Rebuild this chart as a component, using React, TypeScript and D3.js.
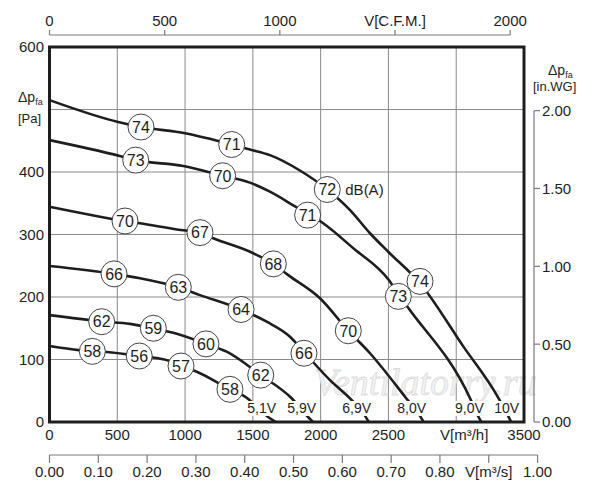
import React from "react";
import * as d3 from "d3";

// fan curves, [V m3/h, dp Pa]
const curve51 = [[0, 121.6], [218, 115], [422, 112], [662, 106], [754, 103.5], [864, 99], [970, 89.6], [1086, 80.5], [1331, 52.3], [1442, 40.5], [1612, 8], [1670, 0]];
const curve59 = [[0, 171], [385, 161], [594, 157], [766, 150], [913, 142.7], [1154, 125], [1307, 112.5], [1558, 75], [1786, 38], [1907, 8], [1944, 0]];
const curve69 = [[0, 249.6], [476, 237], [667, 230], [950, 215.5], [1110, 203], [1413, 180], [1602, 160.5], [1774, 136.5], [1877, 112], [2069, 67], [2229, 35], [2330, 9], [2355, 0]];
const curve80 = [[0, 344.5], [557, 321.6], [667, 317.9], [987, 306.7], [1110, 303], [1208, 294], [1503, 270], [1651, 253], [1761, 235], [1995, 198], [2204, 146], [2364, 110], [2622, 40.5], [2735, 9], [2760, 0]];
const curve90 = [[0, 451], [519, 425.6], [636, 419], [987, 409.6], [1277, 394], [1478, 383], [1626, 368.5], [1811, 345], [2019, 318], [2241, 278], [2500, 228], [2573, 205], [2635, 186], [3102, 38], [3160, 10], [3185, 0]];
const curve100 = [[0, 515], [506, 480], [675, 472], [1000, 462], [1344, 444], [1478, 436], [1626, 427], [1850, 402], [2049, 372], [2217, 339], [2364, 302], [2500, 272], [2733, 222], [3052, 121], [3299, 43], [3380, 11], [3405, 0]];

const curves = [curve51, curve59, curve69, curve80, curve90, curve100];
const voltages = ["5,1V", "5,9V", "6,9V", "8,0V", "9,0V", "10V"];
const voltageLabelV = [1565, 1860, 2266, 2672, 3097, 3372];

// noise labels, [V m3/h, dp Pa, dB(A)]
const noise51 = [[316, 113, 58], [662, 105.6, 56], [970, 89.6, 57], [1331, 52.3, 58]];
const noise59 = [[385, 160.5, 62], [766, 150, 59], [1154, 125, 60], [1558, 75, 62]];
const noise69 = [[476, 237, 66], [950, 215.5, 63], [1413, 180, 64], [1877, 110, 66]];
const noise80 = [[557, 321.6, 70], [1110, 303, 67], [1651, 253, 68], [2204, 146, 70]];
const noise90 = [[636, 419, 73], [1277, 394, 70], [1904, 331, 71], [2573, 201, 73]];
const noise100 = [[675, 472, 74], [1344, 444, 71], [2049, 372, 72], [2733, 225, 74]];
const noiseLabels = [noise51, noise59, noise69, noise80, noise90, noise100];

const xTicks = [0, 500, 1000, 1500, 2000, 2500, 3000, 3500];
const xTickLabels = ["0", "500", "1000", "1500", "2000", "2500", "V[m³/h]", "3500"];
const yTicks = [0, 100, 200, 300, 400, 500, 600];
const yTickLabels = ["0", "100", "200", "300", "400", "", "600"];
const cfmTicks = [0, 500, 1000, 1500, 2000];
const cfmTickLabels = ["0", "500", "1000", "V[C.F.M.]", "2000"];
const m3sTicks = [0, 0.1, 0.2, 0.3, 0.4, 0.5, 0.6, 0.7, 0.8, 0.9, 1.0];
const m3sTickLabels = ["0.00", "0.10", "0.20", "0.30", "0.40", "0.50", "0.60", "0.70", "0.80", "V[m³/s]", "1.00"];
const wgTicks = [0, 0.5, 1.0, 1.5, 2.0];
const wgTickLabels = ["0.00", "0.50", "1.00", "1.50", "2.00"];

const CFM_PER_M3H = 0.588578;
const PA_PER_INWG = 249.089;

const font = "'Liberation Sans', Arial, sans-serif";
const ink = "#1e1e1e";
const axisGray = "#7a7a7a";

const App = () => {
  const left = 49.5;
  const right = 524;
  const top = 47;
  const bottom = 422;

  const x = d3.scaleLinear().domain([0, 3500]).range([left, right]);
  const y = d3.scaleLinear().domain([0, 600]).range([bottom, top]);
  const xCfm = d3.scaleLinear().domain([0, 3500 * CFM_PER_M3H]).range([left, right]);
  const xM3s = d3.scaleLinear().domain([0, 3500 / 3600]).range([left, right]);
  const yWg = d3.scaleLinear().domain([0, 600 / PA_PER_INWG]).range([bottom, top]);

  const line = d3
    .line<number[]>()
    .x((d) => x(d[0]))
    .y((d) => y(d[1]))
    .curve(d3.curveMonotoneX);

  const topAxisY = 35;
  const m3sAxisY = 455;
  const wgAxisX = 534;

  return (
    <svg
      width={600}
      height={500}
      style={{ position: "absolute", left: 0, top: 0, background: "#fff" }}
      fontFamily={font}
    >
      {/* grid */}
      <g stroke="#8a8a8a" strokeWidth={1}>
        {xTicks.slice(1, -1).map((t) => (
          <line key={"gx" + t} x1={x(t)} x2={x(t)} y1={top} y2={bottom} />
        ))}
        {yTicks.slice(1, -1).map((t) => (
          <line key={"gy" + t} x1={left} x2={right} y1={y(t)} y2={y(t)} />
        ))}
      </g>

      {/* watermark */}
      <text
        x={314}
        y={395}
        fontFamily="'Liberation Serif', serif"
        fontStyle="italic"
        fontSize={38}
        fill="#f2f2f2"
        stroke="#dcdcdc"
        strokeWidth={0.8}
      >
        Ventilatorry.ru
      </text>

      {/* curves */}
      {curves.map((c, i) => (
        <path key={"c" + i} d={line(c) || ""} fill="none" stroke={ink} strokeWidth={2.6} />
      ))}

      {/* frame */}
      <rect x={left} y={top} width={right - left} height={bottom - top} fill="none" stroke={ink} strokeWidth={3} />

      {/* voltage labels */}
      {voltages.map((v, i) => (
        <g key={"v" + i}>
          <rect x={x(voltageLabelV[i]) - 15} y={bottom - 21} width={30} height={15} fill="#fff" />
          <text x={x(voltageLabelV[i])} y={bottom - 9} textAnchor="middle" fontSize={14} fill={ink}>
            {v}
          </text>
        </g>
      ))}

      {/* noise circles */}
      {noiseLabels.map((set, i) =>
        set.map((d, j) => (
          <g key={"n" + i + "-" + j}>
            <circle cx={x(d[0])} cy={y(d[1])} r={13} fill="#fff" stroke="#444" strokeWidth={1} />
            <text x={x(d[0])} y={y(d[1])} dy="0.36em" textAnchor="middle" fontSize={16} fill={ink}>
              {d[2]}
            </text>
          </g>
        ))
      )}
      <text x={x(noise100[2][0]) + 18} y={y(noise100[2][1])} dy="0.36em" fontSize={15} fill={ink}>
        dB(A)
      </text>

      {/* bottom axis labels */}
      {xTicks.map((t, i) => (
        <text key={"xl" + t} x={x(t) + (t === 3000 ? 8 : 0)} y={440} textAnchor="middle" fontSize={15} fill={ink}>
          {xTickLabels[i]}
        </text>
      ))}

      {/* left axis labels */}
      {yTicks.map((t, i) => (
        <text key={"yl" + t} x={44} y={y(t)} dy="0.36em" textAnchor="end" fontSize={15} fill={ink}>
          {yTickLabels[i]}
        </text>
      ))}
      <text x={18} y={102} fontSize={14} fill={ink}>
        Δp<tspan fontSize={9} dy={3}>fa</tspan>
      </text>
      <text x={18} y={123} fontSize={13} fill={ink}>
        [Pa]
      </text>

      {/* top C.F.M. axis */}
      <g stroke={axisGray} strokeWidth={1.2}>
        <line x1={xCfm(0)} x2={xCfm(2000)} y1={topAxisY} y2={topAxisY} />
        {cfmTicks.map((t) => (
          <line key={"ct" + t} x1={xCfm(t)} x2={xCfm(t)} y1={topAxisY} y2={topAxisY - 5} />
        ))}
      </g>
      {cfmTicks.map((t, i) => (
        <text key={"cl" + t} x={xCfm(t)} y={26} textAnchor="middle" fontSize={15} fill={ink}>
          {cfmTickLabels[i]}
        </text>
      ))}

      {/* bottom m3/s axis */}
      <g stroke={axisGray} strokeWidth={1.2}>
        <line x1={xM3s(0)} x2={xM3s(1)} y1={m3sAxisY} y2={m3sAxisY} />
        {m3sTicks.map((t) => (
          <line key={"st" + t} x1={xM3s(t)} x2={xM3s(t)} y1={m3sAxisY} y2={m3sAxisY + 8} />
        ))}
      </g>
      {m3sTicks.map((t, i) => (
        <text key={"sl" + t} x={xM3s(t)} y={477} textAnchor="middle" fontSize={15} fill={ink}>
          {m3sTickLabels[i]}
        </text>
      ))}

      {/* right in.WG axis */}
      <g stroke={axisGray} strokeWidth={1.2}>
        <line x1={wgAxisX} x2={wgAxisX} y1={yWg(0)} y2={yWg(2)} />
        {wgTicks.map((t) => (
          <line key={"wt" + t} x1={wgAxisX} x2={wgAxisX + 6} y1={yWg(t)} y2={yWg(t)} />
        ))}
      </g>
      {wgTicks.map((t, i) => (
        <text key={"wl" + t} x={542} y={yWg(t)} dy="0.36em" fontSize={15} fill={ink}>
          {wgTickLabels[i]}
        </text>
      ))}
      <text x={548} y={75} fontSize={14} fill={ink}>
        Δp<tspan fontSize={9} dy={3}>fa</tspan>
      </text>
      <text x={533} y={91} fontSize={13} fill={ink}>
        [in.WG]
      </text>
    </svg>
  );
};

export default App;
